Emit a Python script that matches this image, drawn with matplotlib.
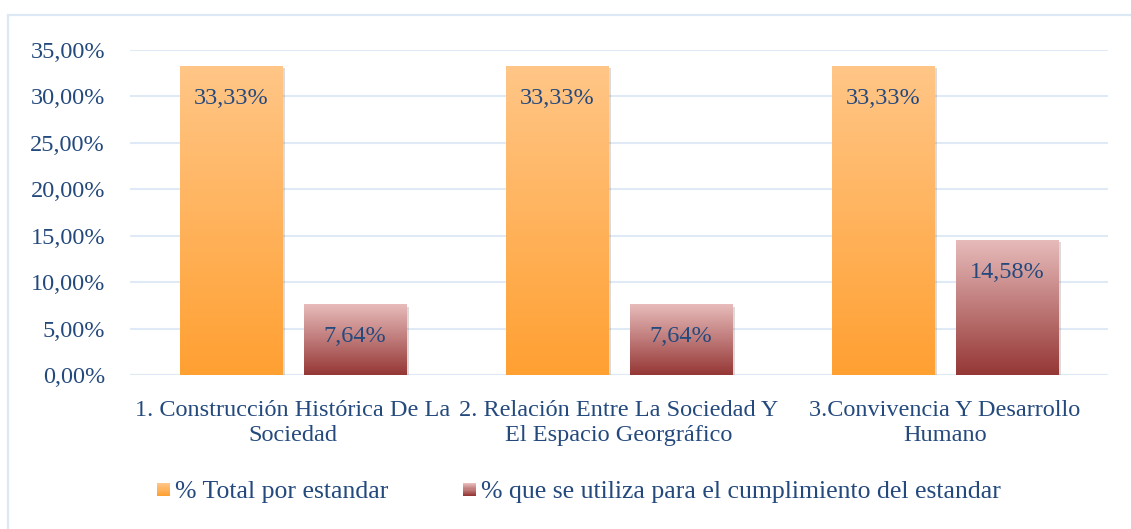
import matplotlib
matplotlib.use('Agg')
import matplotlib.pyplot as plt
import matplotlib.patches as mpatches
import matplotlib.patheffects as pe
from matplotlib.colors import LinearSegmentedColormap
from matplotlib.legend_handler import HandlerBase
import numpy as np

categories = ['1. Construcción Histórica De La\nSociedad',
              '2. Relación Entre La Sociedad Y\nEl Espacio Georgráfico',
              '3.Convivencia Y Desarrollo\nHumano']
total_por_estandar = [33.33, 33.33, 33.33]
cumplimiento = [7.64, 7.64, 14.58]
series_names = ['% Total por estandar',
                '% que se utiliza para el cumplimiento del estandar']
yticks = [0, 5, 10, 15, 20, 25, 30, 35]

TEXT = '#24497D'
GRID = '#E0EAF6'
FS = 17.5
orange_cmap = LinearSegmentedColormap.from_list('orange', ['#FFA032', '#FFC687'])
red_cmap = LinearSegmentedColormap.from_list('red', ['#953735', '#E7BCBB'])

plt.rcParams['font.family'] = ['Liberation Serif', 'DejaVu Serif']

fig = plt.figure(figsize=(11.31, 5.29), dpi=100)
ax = fig.add_axes([130 / 1131, 154 / 529, 978 / 1131, 325 / 529])

# outer chart border
fig.patches.append(mpatches.Rectangle((8 / 1131, -0.1), 1.2, (529 - 15) / 529 + 0.1,
                                      transform=fig.transFigure, fill=False,
                                      edgecolor='#DDE8F5', linewidth=1.6))

x = np.arange(len(categories))
width = 0.313
offset = 0.19
gradient = np.linspace(0, 1, 256).reshape(-1, 1)


def gradient_bars(xs, values, cmap):
    bars = ax.bar(xs, values, width, color='none', zorder=3,
                  path_effects=[pe.SimplePatchShadow(offset=(2, -2), alpha=0.2),
                                pe.Normal()])
    for bar in bars:
        x0, y0 = bar.get_x(), bar.get_y()
        w, h = bar.get_width(), bar.get_height()
        img = ax.imshow(gradient, cmap=cmap, origin='lower', aspect='auto',
                        extent=(x0, x0 + w, y0, y0 + h), zorder=4)
        img.set_clip_path(bar)
        ax.annotate(f'{h:.2f}%'.replace('.', ','), (x0 + w / 2, h),
                    xytext=(0, -23.5), textcoords='offset points',
                    ha='center', va='center', fontsize=FS, color=TEXT, zorder=5)
    return bars


gradient_bars(x - offset, total_por_estandar, orange_cmap)
gradient_bars(x + offset, cumplimiento, red_cmap)

ax.set_xlim(-0.5, 2.5)
ax.set_ylim(0, 35)
ax.set_yticks(yticks)
ax.set_yticklabels([f'{v:.2f}%'.replace('.', ',') for v in yticks])
ax.set_xticks(x)
ax.set_xticklabels(categories, linespacing=1.25)
ax.tick_params(length=0, labelsize=FS, colors=TEXT)
ax.tick_params(axis='y', pad=18)
ax.tick_params(axis='x', pad=18)
ax.grid(axis='y', color=GRID, linewidth=1.5, zorder=0)
ax.axhline(0, color=GRID, linewidth=1.5, zorder=1)
for s in ax.spines.values():
    s.set_visible(False)


class GradientHandler(HandlerBase):
    def __init__(self, cmap):
        super().__init__()
        self.cmap = cmap

    def create_artists(self, legend, orig_handle, xdescent, ydescent,
                       width, height, fontsize, trans):
        size = 13 * 0.72
        n = 12
        artists = []
        x0 = width - size
        y0 = (height - size) / 2
        for i in range(n):
            r = mpatches.Rectangle((x0, y0 + i * size / n), size, size / n + 0.1,
                                   facecolor=self.cmap(i / (n - 1)),
                                   edgecolor='none', transform=trans)
            artists.append(r)
        return artists


h1 = mpatches.Patch(label=series_names[0])
h2 = mpatches.Patch(label=series_names[1])
fig.legend(handles=[h1, h2], loc='center', bbox_to_anchor=(579 / 1131, 1 - 492 / 529),
           ncol=2, frameon=False, fontsize=18.5, labelcolor=TEXT,
           handler_map={h1: GradientHandler(orange_cmap), h2: GradientHandler(red_cmap)},
           handlelength=0.5, handletextpad=0.2, columnspacing=2.9)

fig.savefig('out.png', dpi=100)
